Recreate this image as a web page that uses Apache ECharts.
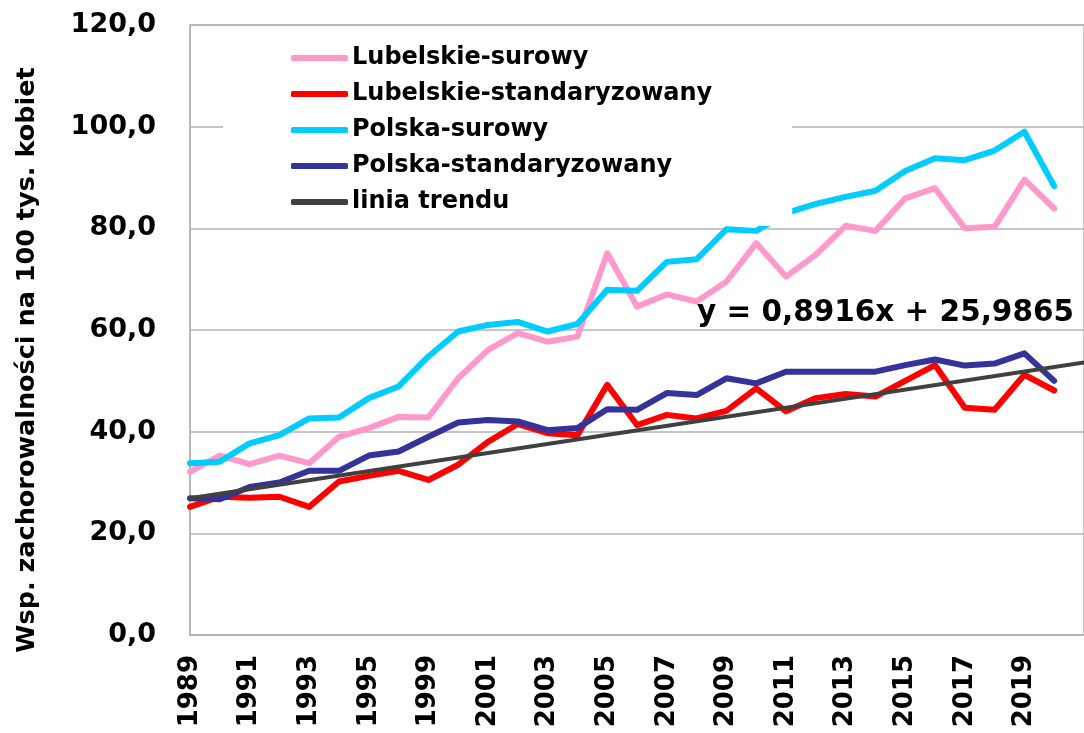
<!DOCTYPE html>
<html>
<head>
<meta charset="utf-8">
<script src="https://cdn.jsdelivr.net/npm/echarts@6/dist/echarts.min.js"></script>
<style>
html,body{margin:0;padding:0;background:#fff;}
#chart{width:1084px;height:733px;}
</style>
</head>
<body>
<div id="chart"></div>
<script>
// Categories (year labels; index 7 is the gap year between 1995 and 1999)
var years = ['1989','1990','1991','1992','1993','1994','1995','1997','1999','2000','2001','2002','2003','2004','2005','2006','2007','2008','2009','2010','2011','2012','2013','2014','2015','2016','2017','2018','2019','2020',''];
var yTickLabels = ['0,0','20,0','40,0','60,0','80,0','100,0','120,0'];

var lubelskieSurowy = [32.1, 35.3, 33.6, 35.3, 33.8, 39.0, 40.7, 42.9, 42.8, 50.5, 56.1, 59.4, 57.7, 58.7, 75.1, 64.6, 67.0, 65.6, 69.5, 77.1, 70.5, 74.8, 80.5, 79.5, 85.9, 87.9, 80.0, 80.3, 89.6, 83.9];
var lubelskieStand = [25.2, 27.2, 27.0, 27.2, 25.2, 30.2, 31.3, 32.3, 30.5, 33.5, 38.0, 41.5, 39.7, 39.3, 49.2, 41.3, 43.3, 42.6, 44.1, 48.5, 44.0, 46.6, 47.4, 46.9, 50.0, 53.1, 44.7, 44.3, 51.2, 48.1];
var polskaSurowy = [33.8, 34.1, 37.7, 39.3, 42.6, 42.8, 46.6, 48.9, 54.8, 59.7, 61.0, 61.6, 59.7, 61.2, 67.9, 67.7, 73.4, 73.9, 79.8, 79.5, 83.0, 84.8, 86.2, 87.4, 91.3, 93.8, 93.4, 95.3, 99.0, 88.3];
var polskaStand = [26.9, 26.7, 29.1, 30.0, 32.3, 32.3, 35.3, 36.1, 39.0, 41.8, 42.3, 42.0, 40.3, 40.7, 44.4, 44.3, 47.6, 47.2, 50.5, 49.5, 51.8, 51.8, 51.8, 51.8, 53.1, 54.2, 53.0, 53.4, 55.4, 50.0];
// trend line endpoints: [category index, value]
var trendPoints = [[0, 26.9], [30, 53.6]];

var seriesNames = ['Lubelskie-surowy','Lubelskie-standaryzowany','Polska-surowy','Polska-standaryzowany','linia trendu'];
var colors = ['#FF99CC','#FF0000','#00CCFF','#333399','#404040'];
var equationText = 'y = 0,8916x + 25,9865';
var yAxisTitle = 'Wsp. zachorowalności na 100 tys. kobiet';

var FONT = '"DejaVu Sans", Verdana, sans-serif';
var chart = echarts.init(document.getElementById('chart'), null, {renderer:'canvas'});

function lineSeries(name, data, color, width) {
  return {
    name: name, type: 'line', data: data, symbol: 'none', smooth: false,
    lineStyle: {color: color, width: width, cap: 'round', join: 'round'},
    itemStyle: {color: color},
    emphasis: {disabled: true},
    animation: false
  };
}

chart.setOption({
  animation: false,
  backgroundColor: '#fff',
  color: colors,
  grid: {left: 190, top: 25, right: -11, bottom: 98, show: true, borderColor: '#b3b3b3', borderWidth: 1.5, backgroundColor: 'transparent'},
  legend: {
    data: seriesNames,
    orient: 'vertical',
    left: 223, top: 34,
    padding: [12, 80, 12, 68],
    backgroundColor: '#fff',
    icon: 'roundRect',
    itemWidth: 57, itemHeight: 6,
    itemGap: 12,
    textStyle: {fontFamily: FONT, fontWeight: 'bold', fontSize: 24, color: '#000', padding: [0,0,0,-1]},
    z: 5
  },
  xAxis: {
    type: 'category',
    data: years,
    boundaryGap: false,
    axisLine: {show: true, lineStyle: {color: '#b3b3b3', width: 1.5}},
    axisTick: {show: false},
    splitLine: {show: false},
    axisLabel: {interval: 1, rotate: 90, margin: 20, fontFamily: FONT, fontWeight: 'bold', fontSize: 26, color: '#000'}
  },
  yAxis: {
    type: 'value', min: 0, max: 120, interval: 20,
    axisLine: {show: true, lineStyle: {color: '#b3b3b3', width: 1.5}},
    axisTick: {show: false},
    splitLine: {show: true, lineStyle: {color: '#b3b3b3', width: 1.5}},
    axisLabel: {margin: 34, fontFamily: FONT, fontWeight: 'bold', fontSize: 27, color: '#000',
      formatter: function (v) { return yTickLabels[Math.round(v / 20)]; }}
  },
  graphic: [{
    type: 'text', x: 27, y: 360, rotation: Math.PI / 2, z: 10,
    style: {text: yAxisTitle, font: 'bold 25.5px ' + FONT, fill: '#000', align: 'center', verticalAlign: 'middle'}
  }, {
    type: 'text', left: 697, top: 298, z: 10,
    style: {text: equationText, font: 'bold 29.5px ' + FONT, fill: '#000'}
  }],
  series: [
    lineSeries(seriesNames[0], lubelskieSurowy, colors[0], 6),
    lineSeries(seriesNames[1], lubelskieStand, colors[1], 6),
    lineSeries(seriesNames[2], polskaSurowy, colors[2], 6),
    lineSeries(seriesNames[3], polskaStand, colors[3], 6),
    lineSeries(seriesNames[4], trendPoints, colors[4], 4)
  ]
});
</script>
</body>
</html>
